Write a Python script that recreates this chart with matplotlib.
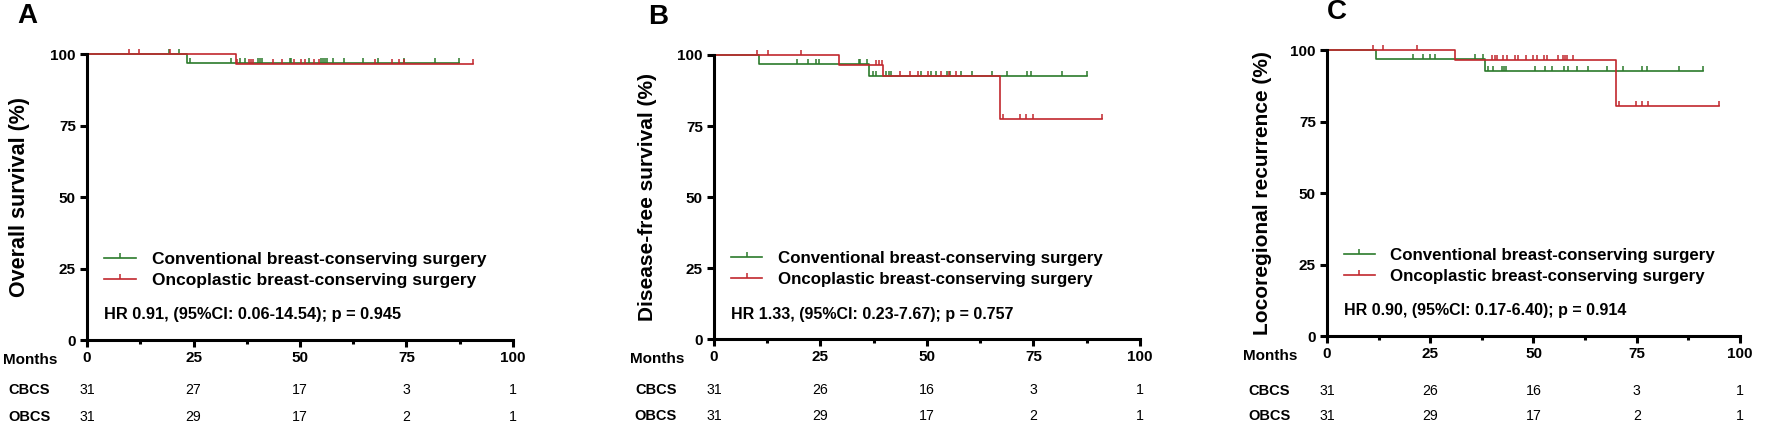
import numpy as np
import matplotlib
matplotlib.use("Agg")
import matplotlib.pyplot as plt
from matplotlib import transforms
from matplotlib.lines import Line2D

plt.rcParams["font.family"] = ["Liberation Sans", "DejaVu Sans"]

GREEN = "#2b7a2b"
RED = "#c1272d"

# ---------------- data ----------------
months = [0, 25, 50, 75, 100]

# A: overall survival
os_cbcs_time = [0, 23.4, 87.3]
os_cbcs_surv = [100, 96.8, 96.8]
os_cbcs_cens = [19.2, 21.6, 24.2, 33.9, 36.0, 37.0, 40.2, 40.6, 41.0, 47.6,
                48.0, 52.0, 54.9, 55.4, 55.8, 56.3, 57.8, 60.3, 64.9, 68.3,
                74.3, 81.6, 87.3]
os_obcs_time = [0, 35.0, 90.6]
os_obcs_surv = [100, 96.6, 96.6]
os_obcs_cens = [9.9, 12.1, 19.6, 35.3, 38.0, 38.5, 39.0, 43.7, 45.8, 48.5,
                50.2, 51.2, 53.4, 54.5, 67.7, 71.6, 73.3, 74.3, 90.6]
os_cbcs_risk = [31, 27, 17, 3, 1]
os_obcs_risk = [31, 29, 17, 2, 1]

# B: disease-free survival
dfs_cbcs_time = [0, 10.6, 36.4, 87.5]
dfs_cbcs_surv = [100, 96.8, 92.7, 92.7]
dfs_cbcs_cens = [19.6, 22.0, 23.9, 24.7, 34.0, 34.4, 35.9, 37.4, 38.1, 40.5,
                 41.2, 41.5, 48.7, 51.0, 52.2, 54.6, 55.5, 58.1, 60.5, 65.2,
                 68.7, 73.4, 74.4, 81.8, 87.5]
dfs_obcs_time = [0, 29.3, 39.7, 67.1, 91.1]
dfs_obcs_surv = [100, 96.4, 92.7, 77.3, 77.3]
dfs_obcs_cens = [10.2, 12.6, 20.4, 38.1, 38.7, 39.4, 43.7, 46.0, 48.0, 50.3,
                 53.4, 55.2, 56.9, 67.9, 71.8, 73.2, 74.8, 91.1]
dfs_cbcs_risk = [31, 26, 16, 3, 1]
dfs_obcs_risk = [31, 29, 17, 2, 1]

# C: locoregional recurrence
lrr_cbcs_time = [0, 11.8, 38.3, 91.0]
lrr_cbcs_surv = [100, 96.8, 92.7, 92.7]
lrr_cbcs_cens = [20.9, 23.3, 24.9, 26.2, 35.8, 37.8, 39.1, 40.3, 42.3, 42.8,
                 43.3, 50.4, 52.8, 54.6, 57.5, 58.4, 60.6, 63.3, 67.9, 71.6,
                 76.4, 77.4, 85.2, 91.0]
lrr_obcs_time = [0, 31.1, 70.0, 94.9]
lrr_obcs_surv = [100, 96.6, 80.5, 80.5]
lrr_obcs_cens = [11.2, 13.6, 21.7, 40.0, 40.6, 41.1, 42.7, 43.6, 45.5, 46.3,
                 48.2, 50.0, 50.8, 52.5, 53.3, 56.0, 57.2, 57.6, 58.0, 59.6,
                 70.8, 74.8, 76.4, 77.8, 94.9]
lrr_cbcs_risk = [31, 26, 16, 3, 1]
lrr_obcs_risk = [31, 29, 17, 2, 1]

panels = [
    dict(letter="A", ylabel="Overall survival (%)",
         hr="HR 0.91, (95%CI: 0.06-14.54); p = 0.945",
         cbcs=(os_cbcs_time, os_cbcs_surv, os_cbcs_cens, os_cbcs_risk),
         obcs=(os_obcs_time, os_obcs_surv, os_obcs_cens, os_obcs_risk),
         rect=[0.0491, 0.2093, 0.2404, 0.6651], rows=(50, 77),
         letter_x=-60, leg=12.5, hrs=11.8, yls=15.5),
    dict(letter="B", ylabel="Disease-free survival (%)",
         hr="HR 1.33, (95%CI: 0.23-7.67); p = 0.757",
         cbcs=(dfs_cbcs_time, dfs_cbcs_surv, dfs_cbcs_cens, dfs_cbcs_risk),
         obcs=(dfs_obcs_time, dfs_obcs_surv, dfs_obcs_cens, dfs_obcs_risk),
         rect=[0.4029, 0.2116, 0.2404, 0.6605], rows=(51, 77),
         letter_x=-56, leg=12.2, hrs=11.5, yls=15),
    dict(letter="C", ylabel="Locoregional recurrence (%)",
         hr="HR 0.90, (95%CI: 0.17-6.40); p = 0.914",
         cbcs=(lrr_cbcs_time, lrr_cbcs_surv, lrr_cbcs_cens, lrr_cbcs_risk),
         obcs=(lrr_obcs_time, lrr_obcs_surv, lrr_obcs_cens, lrr_obcs_risk),
         rect=[0.7489, 0.2186, 0.2330, 0.6651], rows=(55, 80),
         letter_x=10, leg=12.2, hrs=11.5, yls=15),
]


def draw_km(ax, time, surv, cens, color):
    ax.step(time, surv, where="post", color=color, lw=1.2, clip_on=False)
    idx = np.searchsorted(time, cens, side="right") - 1
    cy = np.array(surv)[idx]
    ax.plot(cens, cy, ls="none", marker=2, ms=3.5, mew=1.1, color=color,
            clip_on=False)


fig = plt.figure(figsize=(17.72, 4.30), dpi=100)

for p in panels:
    ax = fig.add_axes(p["rect"])
    draw_km(ax, *p["cbcs"][:3], GREEN)
    draw_km(ax, *p["obcs"][:3], RED)

    ax.set_xlim(0, 100)
    ax.set_ylim(0, 100)
    ax.spines["top"].set_visible(False)
    ax.spines["right"].set_visible(False)
    for s in ["left", "bottom"]:
        ax.spines[s].set_linewidth(2.2)
    ax.set_xticks(months)
    ax.set_xticks([12.5, 37.5, 62.5, 87.5], minor=True)
    ax.set_yticks([0, 25, 50, 75, 100])
    ax.tick_params(which="major", length=5, width=2.2, labelsize=11,
                   direction="out", pad=3)
    ax.tick_params(which="minor", axis="x", length=3, width=2.2)
    for lab in ax.get_xticklabels() + ax.get_yticklabels():
        lab.set_fontweight("bold")

    ax.set_ylabel(p["ylabel"], fontsize=p["yls"], fontweight="bold")
    ax.yaxis.set_label_coords(-0.134, 0.5)

    handles = [Line2D([], [], color=GREEN, lw=1.2, marker=2, ms=3.5, mew=1.1),
               Line2D([], [], color=RED, lw=1.2, marker=2, ms=3.5, mew=1.1)]
    ax.legend(handles, ["Conventional breast-conserving surgery",
                        "Oncoplastic breast-conserving surgery"],
              loc="center left", bbox_to_anchor=(0.04, 0.246),
              frameon=False, borderpad=0, borderaxespad=0,
              handlelength=1.85, handletextpad=0.9, labelspacing=0.35,
              numpoints=1, prop=dict(size=p["leg"], weight="bold"))

    ax.text(4.0, 8.8, p["hr"], fontsize=p["hrs"], fontweight="bold",
            va="center", ha="left")

    # panel letter
    ax.text(0, 1, p["letter"], transform=transforms.offset_copy(
        ax.transAxes, fig=fig, x=p["letter_x"], y=38, units="dots"),
        fontsize=20, fontweight="bold", ha="center", va="center")

    # number-at-risk table
    ax.text(0, 0, "Months", transform=transforms.offset_copy(
        ax.transAxes, fig=fig, x=-30, y=-20, units="dots"),
        fontsize=11, fontweight="bold", ha="right", va="center")
    for name, grp, off in [("CBCS", p["cbcs"], p["rows"][0]),
                           ("OBCS", p["obcs"], p["rows"][1])]:
        ax.text(0, 0, name, transform=transforms.offset_copy(
            ax.transAxes, fig=fig, x=-58, y=-off, units="dots"),
            fontsize=10.5, fontweight="bold", ha="center", va="center")
        tr = transforms.offset_copy(
            transforms.blended_transform_factory(ax.transData, ax.transAxes),
            fig=fig, x=0, y=-off, units="dots")
        for m, n in zip(months, grp[3]):
            ax.text(m, 0, str(n), transform=tr, fontsize=10.2,
                    ha="center", va="center")

fig.savefig("out.png", dpi=100)
